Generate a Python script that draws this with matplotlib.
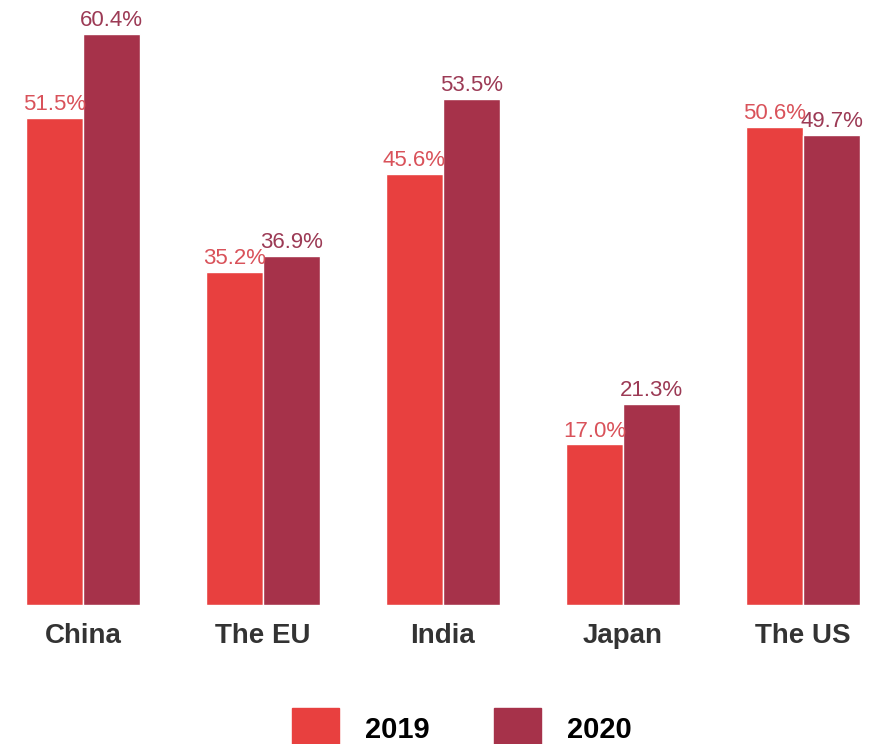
import matplotlib.pyplot as plt
import matplotlib.patches as mpatches
import numpy as np

regions = ['China', 'The EU', 'India', 'Japan', 'The US']
share_2019 = [51.5, 35.2, 45.6, 17.0, 50.6]
share_2020 = [60.4, 36.9, 53.5, 21.3, 49.7]

bar_2019 = '#e8403f'
bar_2020 = '#a6324a'
text_2019 = '#d9525a'
text_2020 = '#9c3a55'

plt.rcParams['font.family'] = ['Liberation Sans', 'DejaVu Sans']

fig = plt.figure(figsize=(8.76, 7.44), dpi=100)
ax = fig.add_axes([0, 139 / 744, 1, 605 / 744])

x = np.arange(len(regions))
width = 0.317

b1 = ax.bar(x - width / 2, share_2019, width, color=bar_2019, edgecolor='white', linewidth=1)
b2 = ax.bar(x + width / 2, share_2020, width, color=bar_2020, edgecolor='white', linewidth=1)

for bars, vals, col in [(b1, share_2019, text_2019), (b2, share_2020, text_2020)]:
    for rect, v in zip(bars, vals):
        ax.annotate(f'{v:.1f}%', (rect.get_x() + rect.get_width() / 2, v),
                    xytext=(0, 2), textcoords='offset points',
                    ha='center', va='bottom', fontsize=16, color=col)

ax.set_xlim(-83 / 180, (876 - 83) / 180)
ax.set_ylim(0, 64.0)
ax.set_xticks(x)
ax.set_xticklabels(regions, fontsize=20, fontweight='bold', color='#333333')
ax.tick_params(axis='x', length=0, pad=13)
ax.set_yticks([])
for s in ax.spines.values():
    s.set_visible(False)

handles = [mpatches.Patch(color=bar_2019, label='2019'),
           mpatches.Patch(color=bar_2020, label='2020')]
leg = fig.legend(handles=handles, loc='center', bbox_to_anchor=(462 / 876, 1 - 729 / 744),
                 ncol=2, frameon=False, prop={'size': 21, 'weight': 'bold'},
                 handlelength=1.6, handleheight=1.8, handletextpad=0.9,
                 columnspacing=2.2, borderpad=0)

fig.savefig('out.png', dpi=100)
